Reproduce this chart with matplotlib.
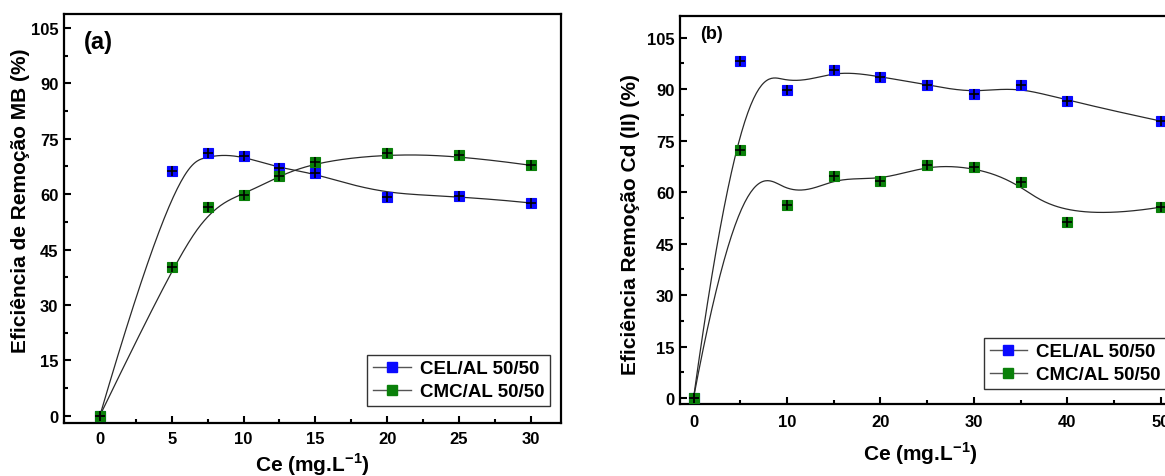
import numpy as np
import matplotlib
matplotlib.use("Agg")
import matplotlib.pyplot as plt
from matplotlib.ticker import MultipleLocator

plt.rcParams['font.family'] = ['Liberation Sans', 'DejaVu Sans']
plt.rcParams['font.weight'] = 'bold'
plt.rcParams['mathtext.fontset'] = 'custom'
plt.rcParams['mathtext.rm'] = 'Liberation Sans:bold'
plt.rcParams['mathtext.bf'] = 'Liberation Sans:bold'

# ---------------- data ----------------
ce_a = [0, 5, 7.5, 10, 12.5, 15, 20, 25, 30]
cel_a = [0, 66.4, 71.1, 70.3, 67.0, 65.7, 59.3, 59.6, 57.6]
cmc_a = [0, 40.2, 56.4, 59.9, 65.0, 68.6, 71.1, 70.5, 67.8]

ce_b = [0, 5, 10, 15, 20, 25, 30, 35, 40, 50]
cel_b = [0, 98.2, 89.8, 95.7, 93.6, 91.3, 88.7, 91.2, 86.5, 80.7]
cmc_b = [0, 72.4, 56.2, 64.7, 63.2, 67.9, 67.3, 62.8, 51.3, 55.6]

series_labels = ['CEL/AL 50/50', 'CMC/AL 50/50']
colors = ['#0a0aff', '#0a800a']


def bspline(x, y, num=400, p=3):
    """Clamped uniform cubic B-spline using the data points as control points."""
    P = np.column_stack([x, y]).astype(float)
    n = len(P)
    k = np.concatenate([np.zeros(p), np.arange(n - p + 1), np.full(p, n - p)]).astype(float)
    ts = np.linspace(0, n - p, num)
    out = []
    for t in ts:
        if t >= n - p:
            j = n - 1
        else:
            j = np.searchsorted(k, t, side='right') - 1
        d = [P[j - p + r].copy() for r in range(p + 1)]
        for r in range(1, p + 1):
            for i in range(p, r - 1, -1):
                den = k[i + 1 + j - r] - k[i + j - p]
                alpha = 0.0 if den == 0 else (t - k[i + j - p]) / den
                d[i] = (1 - alpha) * d[i - 1] + alpha * d[i]
        out.append(d[p])
    out = np.array(out)
    return out[:, 0], out[:, 1]


W, H = 1165, 477
fig = plt.figure(figsize=(W / 100, H / 100), dpi=100)


def px_axes(l, r, t, b):
    return fig.add_axes([l / W, 1 - b / H, (r - l) / W, (b - t) / H])


ax1 = px_axes(64, 561, 15, 424)
ax2 = px_axes(680, 1184, 17, 405)


def style(ax, xmaj, xmin, xlim, ylim, xpad):
    ax.set_xlim(*xlim)
    ax.set_ylim(*ylim)
    ax.xaxis.set_major_locator(MultipleLocator(xmaj))
    ax.xaxis.set_minor_locator(MultipleLocator(xmin))
    ax.yaxis.set_major_locator(MultipleLocator(15))
    ax.yaxis.set_minor_locator(MultipleLocator(7.5))
    ax.tick_params(which='both', direction='in', width=1.5, labelsize=12, pad=4)
    ax.tick_params(axis='x', which='both', pad=xpad)
    ax.tick_params(which='major', length=5)
    ax.tick_params(which='minor', length=3)
    for s in ax.spines.values():
        s.set_linewidth(1.6)
    for lab in ax.get_xticklabels() + ax.get_yticklabels():
        lab.set_fontweight('bold')


def draw(ax, x, ys):
    handles = []
    for yv, c, lab in zip(ys, colors, series_labels):
        sx, sy = bspline(x, yv)
        ax.plot(sx, sy, color='#2a2a2a', lw=0.9, zorder=2)
        ax.plot(x, yv, ls='none', marker='s', ms=7.5, mfc=c, mec=c, mew=0.8, zorder=3)
        ax.plot(x, yv, ls='none', marker='+', ms=7, color='black', mew=1.2, zorder=4)
        h, = ax.plot([], [], color='#555555', lw=1.0, marker='s', ms=7, mfc=c, mec=c)
        handles.append(h)
    return handles


legend_kw = dict(fontsize=13.5, frameon=True, fancybox=False, edgecolor='black',
                 handlelength=2.0, borderpad=0.3, labelspacing=0.3,
                 handletextpad=0.5, borderaxespad=0.0)

h1 = draw(ax1, ce_a, [cel_a, cmc_a])
style(ax1, 5, 2.5, (-2.5, 32.1), (-2.0, 108.8), 6)
ax1.set_xlabel(r'Ce (mg.L$^{-1}$)', fontsize=15, fontweight='bold')
ax1.set_ylabel('Eficiência de Remoção MB (%)', fontsize=15, fontweight='bold')
ax1.xaxis.set_label_coords(0.5, -0.068)
ax1.yaxis.set_label_coords(-0.068, 0.545)
ax1.text(0.04, 0.96, '(a)', transform=ax1.transAxes, fontsize=17, fontweight='bold',
         va='top', ha='left')
leg1 = ax1.legend(handles=h1, labels=series_labels, loc='lower right',
                  bbox_to_anchor=(0.978, 0.042), **legend_kw)
leg1.get_frame().set_linewidth(1.0)

h2 = draw(ax2, ce_b, [cel_b, cmc_b])
style(ax2, 10, 5, (-1.45, 52.5), (-1.75, 111.3), 7)
ax2.set_xlabel(r'Ce (mg.L$^{-1}$)', fontsize=15, fontweight='bold')
ax2.set_ylabel('Eficiência Remoção Cd (II) (%)', fontsize=15, fontweight='bold')
ax2.xaxis.set_label_coords(0.476, -0.09)
ax2.yaxis.set_label_coords(-0.079, 0.465)
ax2.text(0.04, 0.978, '(b)', transform=ax2.transAxes, fontsize=13, fontweight='bold',
         va='top', ha='left')
leg2 = ax2.legend(handles=h2, labels=series_labels, loc='lower left',
                  bbox_to_anchor=(0.603, 0.039), **legend_kw)
leg2.get_frame().set_linewidth(1.0)

fig.savefig('out.png', dpi=100)
